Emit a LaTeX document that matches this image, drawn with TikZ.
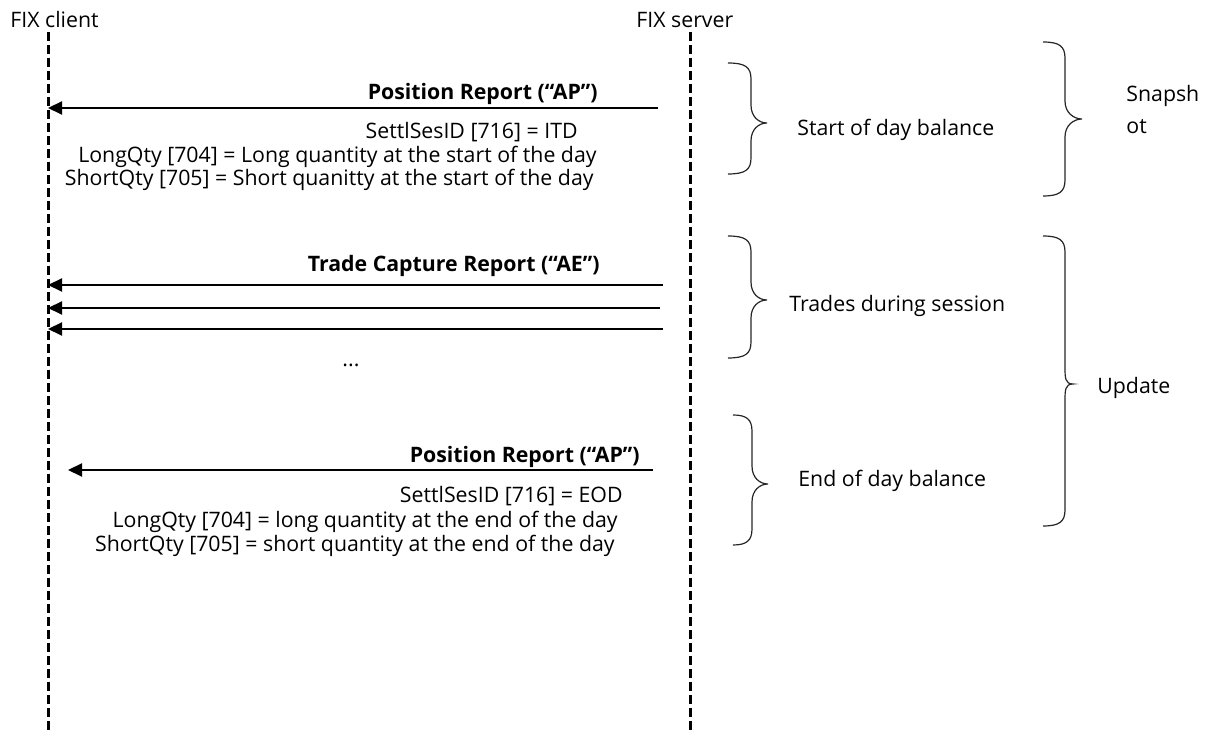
\documentclass[tikz,border=0pt]{standalone}
\usepackage{fontspec}
\setmainfont{Open Sans}
\usetikzlibrary{arrows.meta}
\newcommand\mybrace[6]{% xend, xspine, xtip, ytop, ybot, ymid
  \draw[bracestyle] (#1,#4) .. controls (#2-6,#4) and (#2,#4+4) .. (#2,#4+16)
    -- (#2,#6-18) .. controls (#2,#6-6) and (#3-8,#6) .. (#3,#6)
    .. controls (#3-8,#6) and (#2,#6+6) .. (#2,#6+18)
    -- (#2,#5-16) .. controls (#2,#5-4) and (#2-6,#5) .. (#1,#5);}
\begin{document}
\begin{tikzpicture}[x=0.5pt,y=-0.5pt,
  txt/.style={inner sep=0pt, font=\fontsize{10.65}{13}\selectfont},
  lbl/.style={inner sep=0pt, font=\fontsize{10.65}{13}\selectfont\bfseries},
  life/.style={line width=1.5pt, dash pattern=on 4.5pt off 2pt},
  msg/.style={line width=1pt, -{Triangle[length=7pt,width=6.5pt]}},
  bracestyle/.style={line width=0.6pt, draw=black!85}]
\useasboundingbox (0,0) rectangle (1207,731);

% participants
\node[txt, anchor=base west] (client) at (10,28) {FIX client};
\node[txt, anchor=base west] (server) at (636,28) {FIX server};
\coordinate (cT) at (48,32);  \coordinate (cB) at (48,731);
\coordinate (sT) at (690,32); \coordinate (sB) at (690,731);
\draw[life] (cT) -- (cB);
\draw[life] (sT) -- (sB);

% start of day position report
\coordinate (p1s) at (658,108); \coordinate (p1c) at (48,108);
\draw[msg] (p1s) -- (p1c);
\node[lbl, anchor=base east] (p1lbl) at (598,100) {Position Report (“AP”)};
\node[txt, anchor=base east] (p1l1) at (578,139) {SettlSesID [716] = ITD};
\node[txt, anchor=base east] (p1l2) at (597,163) {LongQty [704] = Long quantity at the start of the day};
\node[txt, anchor=base east] (p1l3) at (594,186) {ShortQty [705] = Short quanitty at the start of the day};

% trade capture reports
\node[lbl, anchor=base east] (tlbl) at (600,272) {Trade Capture Report (“AE”)};
\coordinate (t1s) at (663,285); \coordinate (t1c) at (48,285);
\coordinate (t2s) at (660,308); \coordinate (t2c) at (48,308);
\coordinate (t3s) at (663,329); \coordinate (t3c) at (48,329);
\draw[msg] (t1s) -- (t1c);
\draw[msg] (t2s) -- (t2c);
\draw[msg] (t3s) -- (t3c);
\node[txt, anchor=base] (dots) at (351,367) {...};

% end of day position report
\coordinate (p2s) at (653,470); \coordinate (p2c) at (68,470);
\draw[msg] (p2s) -- (p2c);
\node[lbl, anchor=base east] (p2lbl) at (640,463) {Position Report (“AP”)};
\node[txt, anchor=base east] (p2l1) at (623,503) {SettlSesID [716] = EOD};
\node[txt, anchor=base east] (p2l2) at (618,528) {LongQty [704] = long quantity at the end of the day};
\node[txt, anchor=base east] (p2l3) at (615,552) {ShortQty [705] = short quantity at the end of the day};

% braces
\mybrace{728}{751}{767}{63}{174}{123}
\mybrace{728}{751}{767}{236}{358}{300}
\mybrace{733}{752}{768}{415}{545}{484}
\mybrace{1043}{1065}{1082}{42}{196}{119}
\mybrace{1043}{1065}{1073}{236}{526}{384}

\node[txt, anchor=base west] (sod) at (797,136) {Start of day balance};
\node[txt, anchor=base west] (tds) at (789,312) {Trades during session};
\node[txt, anchor=base west] (eod) at (798,487) {End of day balance};
\node[txt, anchor=base west] (snap1) at (1126,102) {Snapsh};
\node[txt, anchor=base west] (snap2) at (1126,134) {ot};
\node[txt, anchor=base west] (upd) at (1097,394) {Update};
\end{tikzpicture}
\end{document}
